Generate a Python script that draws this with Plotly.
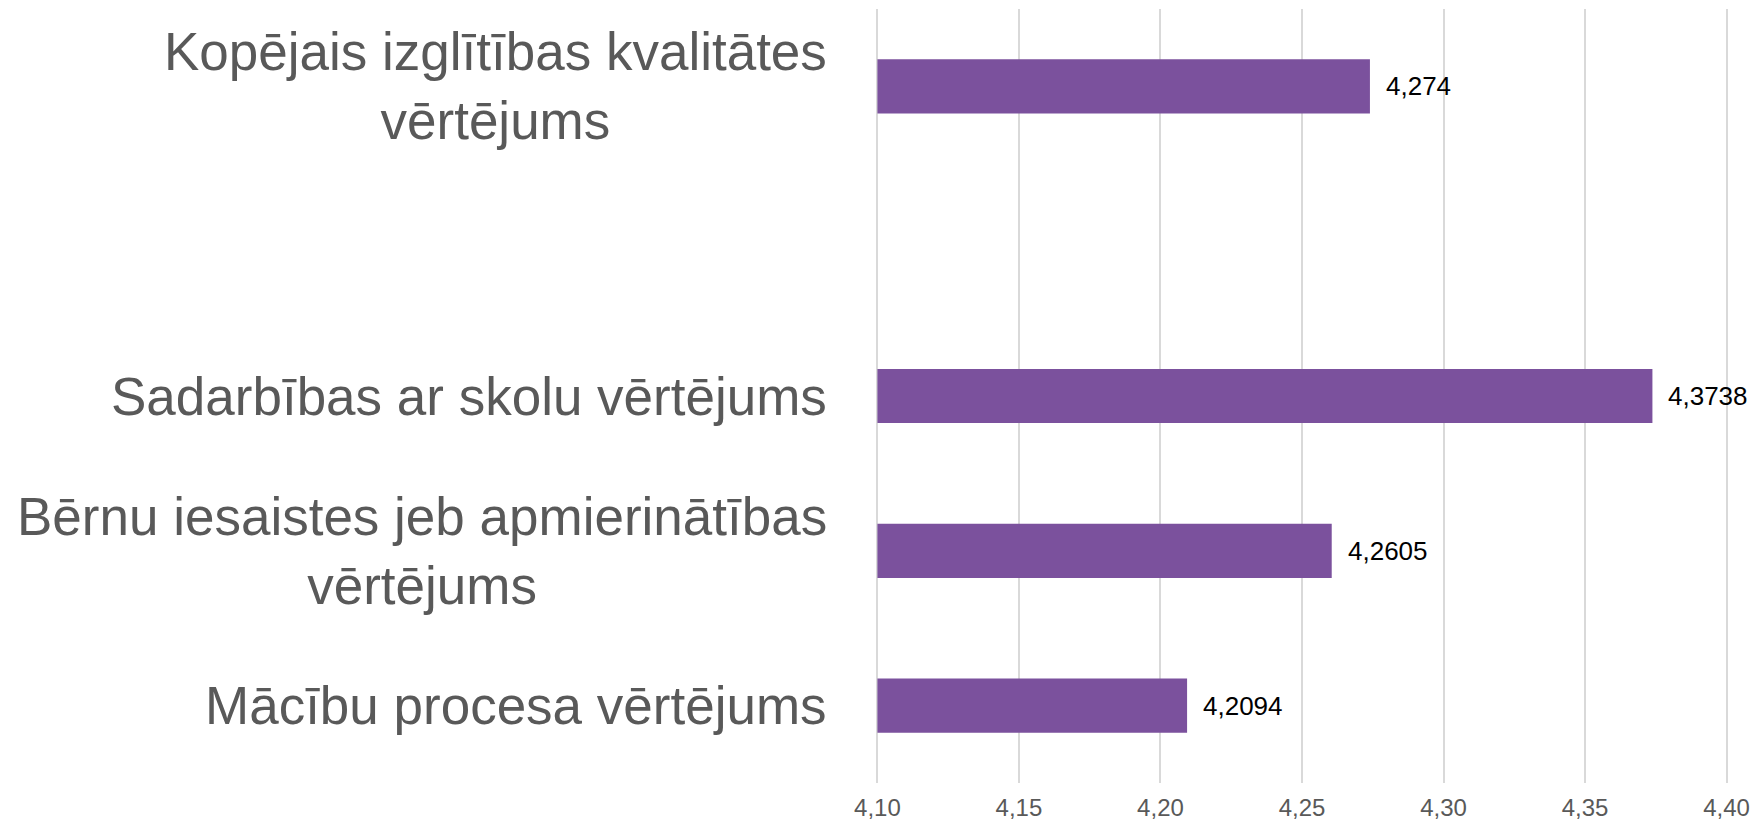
import plotly.graph_objects as go

categories = [
    "Mācību procesa vērtējums",
    "Bērnu iesaistes jeb apmierinātības<br>vērtējums",
    "Sadarbības ar skolu vērtējums",
    " ",
    "Kopējais izglītības kvalitātes<br>vērtējums",
]
values = [4.2094, 4.2605, 4.3738, None, 4.274]
x_ticks = [4.10, 4.15, 4.20, 4.25, 4.30, 4.35, 4.40]
x_tick_labels = ["4,10", "4,15", "4,20", "4,25", "4,30", "4,35", "4,40"]
AXIS_MIN = 4.10

BAR = "#7B519D"
FONT = "Liberation Sans, Arial, sans-serif"

fig = go.Figure()
fig.add_trace(go.Bar(
    y=categories,
    x=[None if v is None else v - AXIS_MIN for v in values],
    base=AXIS_MIN,
    orientation="h",
    marker=dict(color=BAR, line=dict(width=0)),
    hoverinfo="skip",
))

for c, v in zip(categories, values):
    if c.strip():
        fig.add_annotation(
            x=0, xref="paper", y=c, yref="y",
            text=c, showarrow=False, xanchor="right", yanchor="middle",
            align="center", xshift=-47,
            font=dict(family=FONT, size=53, color="#595959"),
        )
    if v is None:
        continue
    fig.add_annotation(
        x=v, y=c, xref="x", yref="y",
        text=str(v).replace(".", ","),
        showarrow=False, xanchor="left", xshift=14,
        font=dict(family=FONT, size=26, color="#000000"),
    )

fig.update_layout(
    width=1757, height=825,
    margin=dict(l=876, r=29, t=9, b=42, autoexpand=False),
    paper_bgcolor="white", plot_bgcolor="white",
    bargap=0.65,
    showlegend=False,
    font=dict(family=FONT),
)
fig.update_xaxes(
    range=[4.0995, 4.4005],
    tickvals=x_ticks, ticktext=x_tick_labels,
    showgrid=True, gridcolor="#D9D9D9", gridwidth=1.5,
    zeroline=False, showline=False, ticks="",
    tickfont=dict(family=FONT, size=24, color="#595959"),
    ticklabelstandoff=8, automargin=False,
)
fig.update_yaxes(
    type="category",
    categoryorder="array", categoryarray=categories,
    range=[-0.5, 4.5],
    showgrid=False, zeroline=False, showline=False, ticks="",
    showticklabels=False, automargin=False,
)

fig.write_html(
    "out.html",
    config={"displayModeBar": False},
    post_script="document.body.style.margin='0px';document.body.style.overflow='hidden';",
)
